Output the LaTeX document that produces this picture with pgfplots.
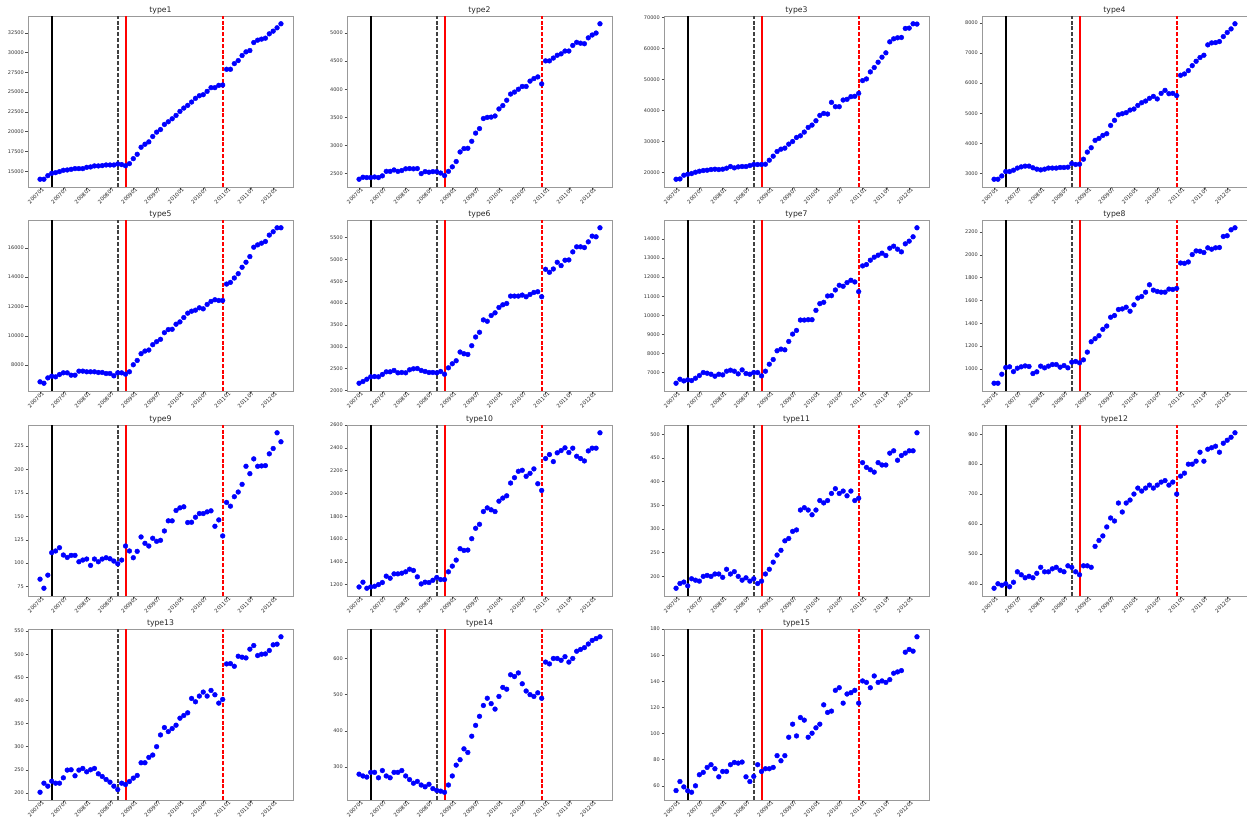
\documentclass[border=0pt]{standalone}
\usepackage{fontspec}
\setmainfont{DejaVu Sans}
\usepackage{pgfplots}
\usepackage{pgfplotstable}
\pgfplotsset{compat=1.18}

\pgfplotstableread[header=false,row sep=\\]{14000\\14000\\14450\\14750\\14830\\14960\\15130\\15170\\15250\\15340\\15340\\15340\\15500\\15550\\15680\\15680\\15720\\15800\\15800\\15800\\15930\\15850\\15700\\15970\\16600\\17150\\18040\\18420\\18720\\19400\\19950\\20280\\20920\\21260\\21640\\22060\\22570\\22990\\23330\\23750\\24220\\24550\\24680\\25100\\25570\\25570\\25860\\25900\\27890\\27890\\28610\\28990\\29630\\30090\\30260\\31270\\31570\\31700\\31820\\32370\\32710\\33130\\33640\\}\tA
\pgfplotstableread[header=false,row sep=\\]{2400\\2435\\2430\\2430\\2440\\2430\\2460\\2540\\2540\\2565\\2540\\2555\\2585\\2590\\2585\\2590\\2500\\2535\\2525\\2535\\2535\\2510\\2465\\2540\\2620\\2715\\2885\\2945\\2950\\3075\\3220\\3300\\3480\\3500\\3505\\3525\\3650\\3710\\3805\\3915\\3950\\4000\\4050\\4050\\4145\\4190\\4220\\4095\\4505\\4505\\4555\\4605\\4630\\4680\\4680\\4780\\4835\\4820\\4810\\4915\\4965\\5000\\5165\\}\tB
\pgfplotstableread[header=false,row sep=\\]{17850\\17950\\19140\\19460\\19680\\20110\\20430\\20650\\20750\\20970\\21080\\20970\\21080\\21400\\21940\\21510\\21830\\21940\\21940\\22260\\22590\\22590\\22590\\22690\\23990\\25280\\26790\\27540\\27870\\29160\\30020\\31310\\31850\\33040\\34550\\35300\\36700\\38430\\39070\\38860\\42630\\41230\\41230\\43380\\43600\\44460\\44570\\45540\\49630\\50170\\52440\\53840\\55560\\57180\\58580\\62130\\63100\\63430\\63540\\66440\\66550\\67950\\67850\\}\tC
\pgfplotstableread[header=false,row sep=\\]{2810\\2810\\2920\\3065\\3065\\3110\\3180\\3220\\3245\\3245\\3190\\3145\\3120\\3145\\3180\\3180\\3180\\3200\\3200\\3210\\3330\\3300\\3310\\3475\\3710\\3855\\4100\\4165\\4265\\4320\\4595\\4765\\4950\\4985\\5020\\5105\\5140\\5260\\5350\\5405\\5495\\5560\\5475\\5660\\5760\\5650\\5660\\5585\\6260\\6305\\6415\\6580\\6725\\6850\\6925\\7270\\7335\\7345\\7380\\7545\\7680\\7800\\7970\\}\tD
\pgfplotstableread[header=false,row sep=\\]{6860\\6765\\7130\\7245\\7200\\7360\\7475\\7475\\7315\\7315\\7590\\7590\\7545\\7545\\7545\\7500\\7500\\7430\\7430\\7270\\7475\\7475\\7385\\7545\\8025\\8320\\8780\\8960\\9030\\9395\\9600\\9760\\10215\\10425\\10445\\10790\\10950\\11245\\11545\\11680\\11750\\11910\\11840\\12140\\12345\\12460\\12410\\12410\\13530\\13645\\13945\\14240\\14675\\15020\\15405\\16045\\16205\\16320\\16435\\16870\\17100\\17370\\17370\\}\tE
\pgfplotstableread[header=false,row sep=\\]{2168\\2207\\2260\\2314\\2322\\2314\\2368\\2429\\2429\\2460\\2406\\2414\\2406\\2475\\2498\\2505\\2460\\2437\\2414\\2414\\2406\\2437\\2375\\2520\\2613\\2682\\2881\\2842\\2827\\3026\\3225\\3333\\3616\\3585\\3716\\3777\\3900\\3961\\3991\\4160\\4160\\4160\\4183\\4145\\4198\\4244\\4260\\4145\\4773\\4704\\4780\\4933\\4857\\4980\\4987\\5171\\5286\\5286\\5270\\5400\\5531\\5516\\5722\\}\tF
\pgfplotstableread[header=false,row sep=\\]{6420\\6631\\6543\\6595\\6560\\6683\\6824\\6982\\6947\\6894\\6789\\6894\\6859\\7053\\7106\\7053\\6912\\7123\\6930\\6894\\6982\\6982\\6807\\7053\\7422\\7668\\8126\\8214\\8178\\8618\\9005\\9199\\9744\\9744\\9762\\9762\\10254\\10606\\10676\\11010\\11028\\11327\\11573\\11521\\11714\\11837\\11749\\11239\\12594\\12664\\12893\\13051\\13156\\13262\\13139\\13526\\13631\\13473\\13332\\13754\\13895\\14124\\14599\\}\tG
\pgfplotstableread[header=false,row sep=\\]{874\\874\\953\\1012\\1018\\976\\1006\\1018\\1026\\1021\\959\\974\\1024\\1009\\1024\\1038\\1038\\1015\\1029\\1009\\1059\\1065\\1053\\1079\\1147\\1238\\1265\\1291\\1347\\1376\\1453\\1468\\1521\\1526\\1541\\1506\\1562\\1621\\1635\\1673\\1738\\1691\\1679\\1673\\1673\\1700\\1697\\1706\\1929\\1926\\1938\\2003\\2035\\2032\\2021\\2062\\2050\\2062\\2065\\2162\\2168\\2220\\2238\\}\tH
\pgfplotstableread[header=false,row sep=\\]{82.9\\73.2\\87.2\\111.2\\113\\116.5\\108.7\\106.1\\108.3\\108.3\\101.5\\103.3\\104.4\\97.6\\104.4\\101.5\\104.4\\105.8\\104.7\\102.2\\99.3\\103.3\\118.3\\113\\105.8\\112.6\\128\\121.2\\118.3\\126.6\\123.3\\124.4\\134.4\\145.2\\145.2\\156.3\\159.1\\160.2\\143.4\\143.7\\149.1\\153\\153\\154.8\\155.9\\139.4\\146.2\\129.1\\164.9\\160.9\\171\\176\\184.2\\203.5\\195.6\\211.4\\203.5\\203.9\\204.2\\216.8\\222.5\\239.3\\229.7\\}\tI
\pgfplotstableread[header=false,row sep=\\]{1179\\1221\\1168\\1179\\1185\\1200\\1218\\1274\\1256\\1294\\1294\\1300\\1312\\1335\\1324\\1268\\1206\\1221\\1218\\1238\\1262\\1244\\1244\\1312\\1362\\1415\\1515\\1500\\1503\\1603\\1694\\1729\\1841\\1873\\1856\\1841\\1932\\1959\\1979\\2091\\2138\\2194\\2203\\2150\\2176\\2215\\2085\\2026\\2306\\2341\\2279\\2356\\2376\\2400\\2359\\2397\\2326\\2306\\2285\\2373\\2397\\2397\\2532\\}\tJ
\pgfplotstableread[header=false,row sep=\\]{175\\185\\188\\180\\195\\192\\190\\200\\202\\200\\205\\205\\198\\215\\205\\210\\200\\192\\197\\190\\195\\185\\190\\205\\215\\230\\245\\255\\275\\280\\295\\298\\340\\345\\340\\330\\340\\360\\355\\360\\375\\385\\375\\380\\370\\380\\360\\365\\440\\430\\425\\420\\440\\435\\435\\460\\465\\445\\455\\460\\465\\465\\503\\}\tK
\pgfplotstableread[header=false,row sep=\\]{385\\400\\395\\400\\390\\405\\440\\430\\420\\425\\420\\435\\455\\440\\440\\450\\455\\445\\440\\460\\455\\440\\430\\460\\460\\455\\525\\545\\560\\590\\620\\610\\670\\640\\670\\680\\700\\720\\710\\720\\730\\720\\730\\740\\745\\730\\740\\700\\760\\770\\800\\800\\810\\840\\810\\850\\855\\860\\840\\870\\880\\890\\905\\}\tL
\pgfplotstableread[header=false,row sep=\\]{201.4\\221\\214.5\\225.4\\221\\221\\232.6\\249.3\\250\\237\\249.3\\252.9\\245.6\\250\\252.9\\241.3\\235.5\\229\\223.2\\214.5\\207.2\\221\\218.1\\224.6\\231.9\\237.7\\265.2\\265.2\\276.8\\281.9\\300\\325.4\\341.3\\332.6\\339.1\\346.4\\361.6\\367.4\\373.2\\404.3\\397.1\\409.4\\418.1\\409.4\\421.7\\412.3\\394.2\\402.2\\479\\479.7\\473.9\\495.6\\493.5\\492\\510.9\\518.8\\497.1\\500\\500.7\\508\\520.3\\521.7\\537.7\\}\tM
\pgfplotstableread[header=false,row sep=\\]{280\\275\\272\\285\\285\\270\\290\\275\\270\\285\\285\\290\\275\\265\\255\\260\\250\\245\\252\\240\\235\\233\\230\\250\\275\\305\\320\\350\\340\\385\\415\\440\\470\\490\\475\\460\\495\\520\\515\\555\\550\\560\\530\\510\\500\\495\\505\\490\\590\\585\\600\\600\\595\\605\\590\\600\\620\\625\\630\\640\\650\\655\\660\\}\tN
\pgfplotstableread[header=false,row sep=\\]{56.4\\63.3\\59.2\\56.2\\55.1\\60\\68.5\\70.3\\74.1\\76.2\\73.1\\66.9\\71\\71\\76.2\\77.9\\77.4\\78.2\\66.9\\63.3\\67.2\\76.2\\71\\73.1\\73.1\\74.1\\83.1\\79.2\\83.1\\97.2\\107.2\\98.2\\112.3\\110.3\\97.2\\100.3\\104.4\\107.2\\122\\116.2\\117.2\\133.1\\135.1\\123.3\\130.3\\131.3\\133.1\\123.3\\140.3\\139.2\\135.1\\144.1\\139.2\\140.3\\139.2\\141.3\\146.2\\147.2\\148.2\\162.3\\164.4\\163.1\\174.1\\}\tO

\definecolor{dashk}{rgb}{0.25,0.25,0.25}
\pgfplotsset{
  panel/.style={
    anchor=north west,
    scale only axis, width=265pt, height=171pt,
    xmin=-3.1, xmax=65.1,
    enlarge y limits=0.05,
    xtick={0,6,...,60},
    xticklabels={200701,200707,200801,200807,200901,200907,201001,201007,201101,201107,201201},
    tick align=outside, major tick length=2.5pt, tick pos=left,
    tick style={black!70, line width=0.5pt},
    axis line style={black!40, line width=0.9pt},
    scaled y ticks=false,
    /pgf/number format/1000 sep={},
    /pgf/number format/fixed,
    /pgf/number format/assume math mode=true,
    yticklabel style={font=\fontsize{5}{6}\selectfont, text=black!80, inner sep=1.5pt},
    xticklabel style={font=\fontsize{5.3}{6}\selectfont, text=black!85, rotate=45, anchor=east, inner sep=1pt, xshift=4pt, yshift=-1.5pt},
    title style={font=\fontsize{7.7}{9}\selectfont, text=black!85, inner sep=1pt, yshift=-5pt},
  }
}
\newcommand{\vlines}{%
  \draw[color=black, line width=2pt] ({axis cs:3,0}|-{rel axis cs:0,0}) -- ({axis cs:3,0}|-{rel axis cs:0,1});
  \draw[color=dashk, line width=2pt, dash pattern=on 4pt off 1.8pt] ({axis cs:20,0}|-{rel axis cs:0,0}) -- ({axis cs:20,0}|-{rel axis cs:0,1});
  \draw[color=red, line width=2pt] ({axis cs:22,0}|-{rel axis cs:0,0}) -- ({axis cs:22,0}|-{rel axis cs:0,1});
  \draw[color=red, line width=2pt, dash pattern=on 4pt off 1.8pt] ({axis cs:47,0}|-{rel axis cs:0,0}) -- ({axis cs:47,0}|-{rel axis cs:0,1});
}
\newcommand{\panel}[5]{%
  \begin{axis}[panel, at={(#1pt,-#2pt)}, title={#3}, ytick={#5}]
    \addplot[only marks, mark=*, color=blue, mark size=2.4pt] table[x expr=\coordindex, y index=0] {#4};
    \vlines
  \end{axis}%
}

\begin{document}
\begin{tikzpicture}
\path[use as bounding box] (0,0) rectangle (1247pt,-827pt);
\panel{28}{16}{type1}{\tA}{15000,17500,...,32500}
\panel{347}{16}{type2}{\tB}{2500,3000,...,5000}
\panel{664}{16}{type3}{\tC}{20000,30000,...,70000}
\panel{982}{16}{type4}{\tD}{3000,4000,...,8000}
\panel{28}{220}{type5}{\tE}{8000,10000,...,16000}
\panel{347}{220}{type6}{\tF}{2000,2500,...,5500}
\panel{664}{220}{type7}{\tG}{7000,8000,...,14000}
\panel{982}{220}{type8}{\tH}{1000,1200,...,2200}
\panel{28}{425}{type9}{\tI}{75,100,...,225}
\panel{347}{425}{type10}{\tJ}{1200,1400,...,2600}
\panel{664}{425}{type11}{\tK}{200,250,...,500}
\panel{982}{425}{type12}{\tL}{400,500,...,900}
\panel{28}{629}{type13}{\tM}{200,250,...,550}
\panel{347}{629}{type14}{\tN}{300,400,...,600}
\panel{664}{629}{type15}{\tO}{60,80,...,180}
\end{tikzpicture}
\end{document}
